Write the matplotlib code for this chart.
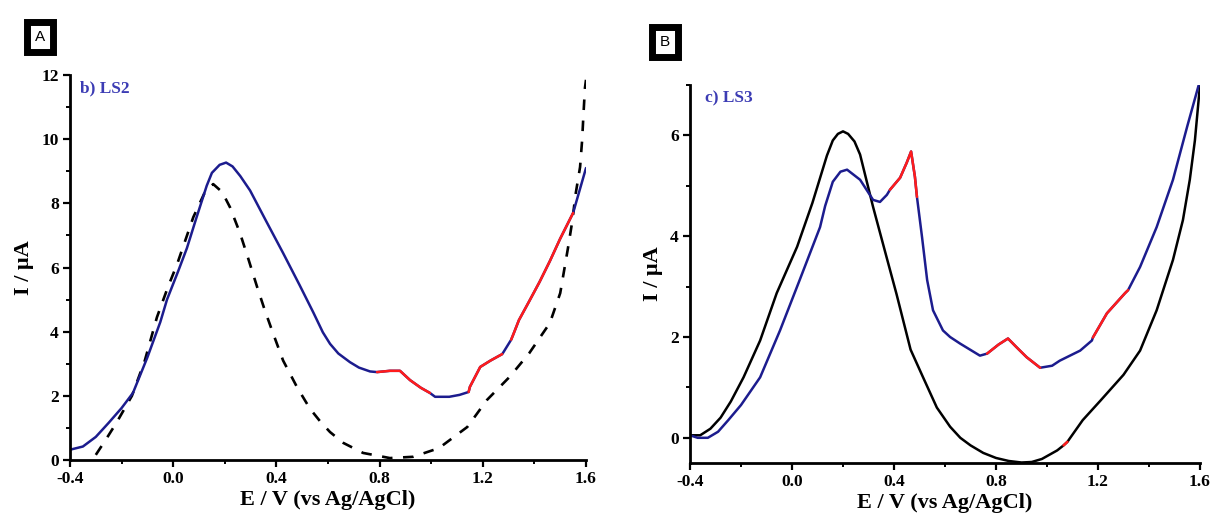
import numpy as np
import matplotlib
matplotlib.use("Agg")
import matplotlib.pyplot as plt
from matplotlib.ticker import MultipleLocator, FormatStrFormatter

plt.rcParams["axes.unicode_minus"] = False
plt.rcParams["font.family"] = ["Liberation Serif", "DejaVu Serif"]

# ---- Panel A: LS2 ----
a_blue_x = [-0.40, -0.35, -0.30, -0.25, -0.20, -0.156, -0.10, -0.05, -0.024, 0.02, 0.053,
            0.09, 0.13, 0.15, 0.18, 0.205, 0.23, 0.26, 0.298, 0.36, 0.426, 0.49, 0.543,
            0.58, 0.608, 0.64, 0.685, 0.72, 0.763, 0.79, 0.84, 0.879, 0.918, 0.96, 0.995,
            1.015, 1.07, 1.11, 1.145, 1.15, 1.19, 1.23, 1.275, 1.28, 1.31, 1.32, 1.34,
            1.38, 1.42, 1.46, 1.50, 1.55, 1.575, 1.60]
a_blue_y = [0.32, 0.42, 0.72, 1.16, 1.62, 2.09, 3.2, 4.3, 5.0, 5.9, 6.6,
            7.55, 8.55, 8.95, 9.2, 9.27, 9.15, 8.85, 8.4, 7.45, 6.45, 5.45, 4.6,
            3.98, 3.62, 3.32, 3.05, 2.88, 2.76, 2.74, 2.78, 2.78, 2.49, 2.25, 2.09,
            1.97, 1.97, 2.03, 2.12, 2.28, 2.9, 3.1, 3.3, 3.36, 3.75, 3.95, 4.36,
            4.95, 5.55, 6.2, 6.9, 7.7, 8.4, 9.1]
a_red_ranges = [(0.79, 0.995), (1.145, 1.275), (1.31, 1.55)]

a_dash_x = [-0.30, -0.26, -0.22, -0.16, -0.11, -0.063, -0.02, 0.015, 0.078, 0.12, 0.155,
            0.19, 0.22, 0.259, 0.29, 0.325, 0.355, 0.387, 0.426, 0.48, 0.53, 0.57, 0.608,
            0.66, 0.736, 0.84, 0.93, 1.03, 1.14, 1.216, 1.305, 1.38, 1.46, 1.50, 1.53,
            1.546, 1.56, 1.577, 1.585, 1.59, 1.596, 1.60]
a_dash_y = [0.16, 0.65, 1.16, 2.0, 3.1, 4.45, 5.4, 6.1, 7.57, 8.3, 8.6,
            8.35, 7.88, 7.07, 6.3, 5.4, 4.67, 3.95, 3.1, 2.27, 1.6, 1.2, 0.87,
            0.53, 0.22, 0.06, 0.1, 0.37, 1.03, 1.87, 2.6, 3.33, 4.27, 5.2, 6.6,
            7.4, 8.3, 9.13, 9.97, 10.75, 11.6, 11.85]

# ---- Panel B: LS3 ----
b_blue_x = [-0.40, -0.37, -0.33, -0.29, -0.25, -0.20, -0.125, -0.047, 0.03, 0.11, 0.13,
            0.16, 0.19, 0.216, 0.267, 0.318, 0.345, 0.372, 0.384, 0.424, 0.45, 0.467,
            0.482, 0.49, 0.51, 0.53, 0.553, 0.592, 0.62, 0.659, 0.737, 0.765, 0.81, 0.847,
            0.88, 0.92, 0.973, 1.02, 1.05, 1.13, 1.176, 1.18, 1.235, 1.306, 1.318, 1.365,
            1.43, 1.494, 1.55, 1.595]
b_blue_y = [0.05, 0.0, 0.0, 0.12, 0.35, 0.65, 1.2, 2.13, 3.13, 4.18, 4.6,
            5.08, 5.28, 5.32, 5.12, 4.72, 4.68, 4.82, 4.92, 5.16, 5.46, 5.68,
            5.18, 4.78, 3.98, 3.13, 2.53, 2.13, 2.0, 1.87, 1.63, 1.67, 1.85, 1.97,
            1.8, 1.6, 1.39, 1.43, 1.53, 1.73, 1.93, 1.99, 2.47, 2.87, 2.93, 3.39,
            4.18, 5.12, 6.18, 7.0]
b_blue_red_ranges = [(0.384, 0.49), (0.765, 0.973), (1.18, 1.318)]

b_black_x = [-0.40, -0.36, -0.32, -0.28, -0.24, -0.19, -0.125, -0.06, 0.02, 0.08, 0.137,
             0.16, 0.18, 0.2, 0.22, 0.245, 0.267, 0.318, 0.37, 0.41, 0.465, 0.514, 0.568,
             0.62, 0.66, 0.70, 0.75, 0.80, 0.85, 0.90, 0.94, 0.98, 1.04, 1.065, 1.08,
             1.14, 1.21, 1.30, 1.365, 1.43, 1.494, 1.533, 1.56, 1.58, 1.60]
b_black_y = [0.05, 0.05, 0.18, 0.4, 0.72, 1.2, 1.93, 2.87, 3.79, 4.66, 5.6,
             5.9, 6.03, 6.08, 6.03, 5.88, 5.62, 4.58, 3.6, 2.85, 1.75, 1.2, 0.6,
             0.22, 0.0, -0.15, -0.3, -0.4, -0.46, -0.49, -0.48, -0.42, -0.25, -0.15, -0.08,
             0.35, 0.74, 1.25, 1.73, 2.53, 3.53, 4.32, 5.12, 5.9, 7.0]
b_black_red_ranges = [(1.065, 1.08)]

x_ticks = [-0.4, 0.0, 0.4, 0.8, 1.2, 1.6]
a_y_ticks = [0, 2, 4, 6, 8, 10, 12]
b_y_ticks = [0, 2, 4, 6]

NAVY = "#1c1c8e"
RED = "#ff1c1c"
LABEL_BLUE = "#3c3cb4"

fig = plt.figure(figsize=(12.19, 5.25), dpi=100)
axA = fig.add_axes([70 / 1219, 65 / 525, 516 / 1219, 385 / 525])
axB = fig.add_axes([690 / 1219, 62 / 525, 510 / 1219, 378 / 525])


def plot_colored(ax, xs, ys, base, red_ranges, lw=1.8):
    xs = np.asarray(xs)
    ys = np.asarray(ys)
    ax.plot(xs, ys, color=base, lw=lw, solid_joinstyle="round", solid_capstyle="round")
    for lo, hi in red_ranges:
        m = (xs >= lo - 1e-9) & (xs <= hi + 1e-9)
        ax.plot(xs[m], ys[m], color=RED, lw=lw, solid_joinstyle="round",
                solid_capstyle="round")


def style_axes(ax, ylim, yticks):
    ax.set_xlim(-0.4, 1.6)
    ax.set_ylim(*ylim)
    for s in ("top", "right"):
        ax.spines[s].set_visible(False)
    for s in ("left", "bottom"):
        ax.spines[s].set_linewidth(2.0)
    ax.set_xticks(x_ticks)
    ax.xaxis.set_major_formatter(FormatStrFormatter("%.1f"))
    ax.xaxis.set_minor_locator(MultipleLocator(0.2))
    ax.set_yticks(yticks)
    ax.yaxis.set_minor_locator(MultipleLocator(1))
    ax.tick_params(which="major", direction="out", length=5, width=1.6,
                   labelsize=12.5, pad=3)
    ax.tick_params(which="minor", direction="out", length=3, width=1.4)
    for lab in ax.get_xticklabels() + ax.get_yticklabels():
        lab.set_fontweight("bold")
    ax.set_xlabel("E / V (vs Ag/AgCl)", fontsize=16, fontweight="bold", labelpad=2)
    ax.set_ylabel("I / μA", fontsize=16, fontweight="bold", labelpad=5)


# Panel A curves
axA.plot(a_dash_x, a_dash_y, color="black", lw=1.9, linestyle=(0, (4, 4)))
plot_colored(axA, a_blue_x, a_blue_y, NAVY, a_red_ranges)
style_axes(axA, (0, 12), a_y_ticks)
axA.text(0.02, 0.965, "b) LS2", transform=axA.transAxes, color=LABEL_BLUE,
         fontsize=12.5, fontweight="bold", va="center", ha="left")

# Panel B curves
plot_colored(axB, b_black_x, b_black_y, "black", b_black_red_ranges)
plot_colored(axB, b_blue_x, b_blue_y, NAVY, b_blue_red_ranges)
style_axes(axB, (-0.5, 7.0), b_y_ticks)
axB.text(0.03, 0.965, "c) LS3", transform=axB.transAxes, color=LABEL_BLUE,
         fontsize=12.5, fontweight="bold", va="center", ha="left")

# Panel letters in framed boxes
for x, y, letter in [(40 / 1219, 1 - 37 / 525, "A"), (665 / 1219, 1 - 42 / 525, "B")]:
    fig.text(x, y, letter, ha="center", va="center", fontsize=11,
             family=["Liberation Sans", "DejaVu Sans"],
             bbox=dict(boxstyle="square,pad=0.5", facecolor="white",
                       edgecolor="black", linewidth=5))

fig.savefig("out.png", dpi=100)
